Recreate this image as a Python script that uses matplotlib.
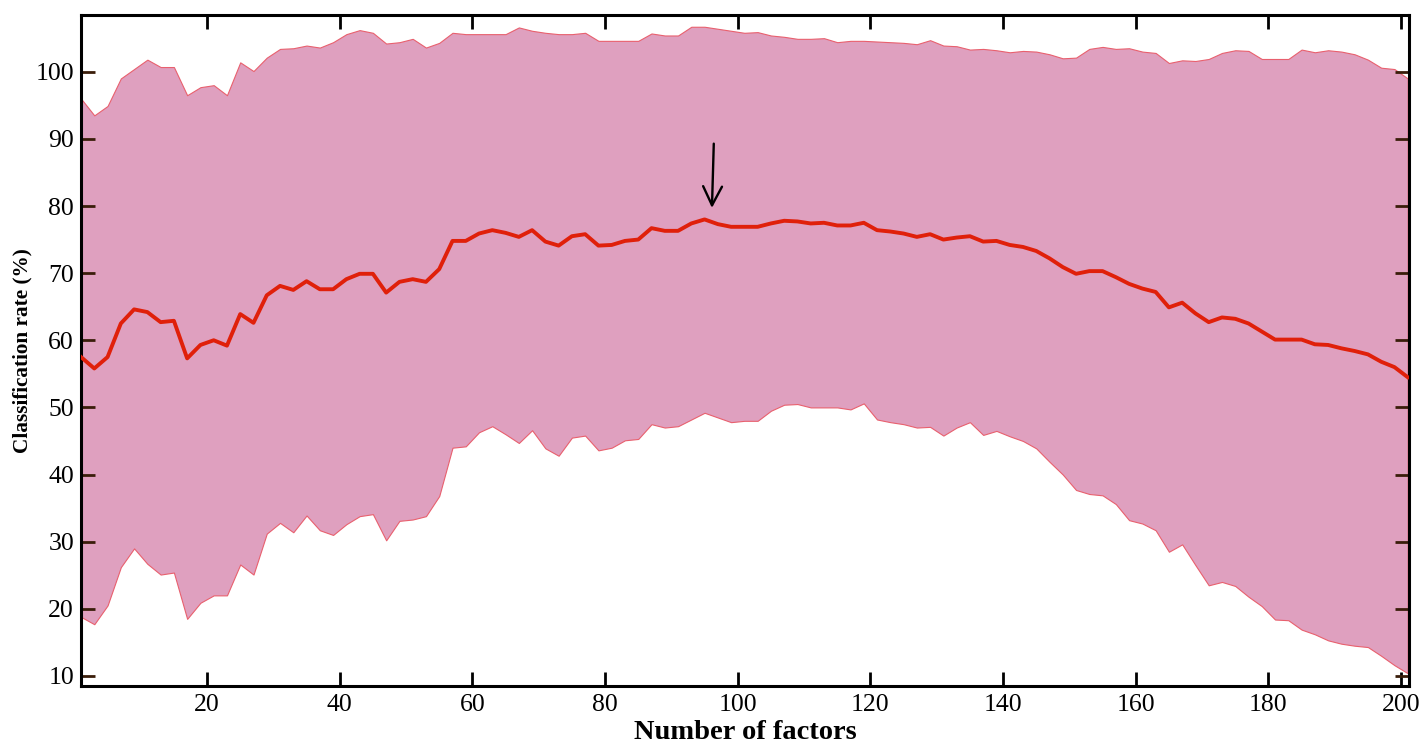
import matplotlib
matplotlib.use("Agg")
import matplotlib.pyplot as plt

plt.rcParams["font.family"] = ["Liberation Serif", "DejaVu Serif"]

# number of factors (every second value)
factors = list(range(1, 202, 2))

upper = [96.0, 93.5, 94.9, 99.0, 100.4, 101.8, 100.7, 100.7, 96.5, 97.7,
         98.0, 96.5, 101.4, 100.1, 102.1, 103.4, 103.5, 103.9, 103.6, 104.4,
         105.6, 106.2, 105.8, 104.2, 104.4, 104.9, 103.6, 104.3, 105.8, 105.6,
         105.6, 105.6, 105.6, 106.6, 106.1, 105.8, 105.6, 105.6, 105.8, 104.6,
         104.6, 104.6, 104.6, 105.7, 105.4, 105.4, 106.7, 106.7, 106.4, 106.1,
         105.8, 105.9, 105.4, 105.2, 104.9, 104.9, 105.0, 104.4, 104.6, 104.6,
         104.5, 104.4, 104.3, 104.1, 104.7, 103.9, 103.8, 103.3, 103.4, 103.2,
         102.9, 103.1, 103.0, 102.6, 102.0, 102.1, 103.4, 103.7, 103.4, 103.5,
         103.0, 102.8, 101.3, 101.7, 101.6, 101.9, 102.8, 103.2, 103.1, 101.9,
         101.9, 101.9, 103.3, 102.9, 103.2, 103.0, 102.6, 101.8, 100.6, 100.4,
         99.0]

mean_rate = [57.5, 55.8, 57.5, 62.5, 64.6, 64.2, 62.7, 62.9, 57.3, 59.3,
             60.0, 59.2, 63.9, 62.6, 66.7, 68.1, 67.5, 68.8, 67.6, 67.6,
             69.1, 69.9, 69.9, 67.1, 68.7, 69.1, 68.7, 70.6, 74.8, 74.8,
             75.9, 76.4, 76.0, 75.4, 76.4, 74.7, 74.1, 75.5, 75.8, 74.1,
             74.2, 74.8, 75.0, 76.7, 76.3, 76.3, 77.4, 78.0, 77.3, 76.9,
             76.9, 76.9, 77.4, 77.8, 77.7, 77.4, 77.5, 77.1, 77.1, 77.5,
             76.4, 76.2, 75.9, 75.4, 75.8, 75.0, 75.3, 75.5, 74.7, 74.8,
             74.2, 73.9, 73.3, 72.2, 70.9, 69.9, 70.3, 70.3, 69.4, 68.4,
             67.7, 67.2, 64.9, 65.6, 64.0, 62.7, 63.4, 63.2, 62.5, 61.3,
             60.1, 60.1, 60.1, 59.4, 59.3, 58.8, 58.4, 57.9, 56.8, 56.0,
             54.5]

lower = [18.8, 17.7, 20.5, 26.2, 29.0, 26.7, 25.1, 25.4, 18.5, 20.9,
         22.0, 22.0, 26.6, 25.1, 31.2, 32.8, 31.4, 33.9, 31.7, 31.0,
         32.6, 33.8, 34.1, 30.2, 33.1, 33.3, 33.8, 36.8, 44.0, 44.2,
         46.3, 47.2, 46.0, 44.7, 46.6, 43.9, 42.8, 45.5, 45.8, 43.6,
         44.0, 45.1, 45.3, 47.5, 47.0, 47.2, 48.2, 49.2, 48.5, 47.8,
         48.0, 48.0, 49.5, 50.4, 50.5, 50.0, 50.0, 50.0, 49.7, 50.6,
         48.2, 47.8, 47.5, 47.0, 47.1, 45.8, 47.0, 47.8, 45.9, 46.5,
         45.7, 45.0, 43.9, 41.9, 40.0, 37.7, 37.1, 36.9, 35.6, 33.2,
         32.7, 31.7, 28.5, 29.6, 26.5, 23.5, 24.0, 23.4, 21.8, 20.4,
         18.4, 18.3, 16.9, 16.2, 15.3, 14.8, 14.5, 14.3, 13.0, 11.6,
         10.4]

x_ticks = list(range(20, 201, 20))
y_ticks = list(range(10, 101, 10))

fig = plt.figure(figsize=(14.24, 7.45), dpi=100)
ax = fig.add_axes([0.0569, 0.0792, 0.9326, 0.9011])

ax.fill_between(factors, lower, upper, facecolor="#dfa0bf", edgecolor="#e8606e",
                linewidth=0.8, zorder=1)
ax.plot(factors, mean_rate, color="#e0200a", linewidth=2.8, zorder=3)

# arrow marking the best number of factors
ax.annotate("", xy=(96.1, 79.3), xytext=(96.4, 89.7),
            arrowprops=dict(arrowstyle="->", color="black", lw=1.7,
                            mutation_scale=34), zorder=4)

ax.set_xlim(1, 201.2)
ax.set_ylim(8.5, 108.5)
ax.set_xticks(x_ticks)
ax.set_yticks(y_ticks)

for side in ax.spines.values():
    side.set_linewidth(2.2)
ax.tick_params(axis="both", direction="in", length=10, width=2,
               top=True, right=True, labelsize=18.5)
ax.tick_params(axis="y", color="#3a1d0a", pad=5)
ax.tick_params(axis="x", pad=6)

ax.set_xlabel("Number of factors", fontsize=20.5, fontweight="bold", labelpad=3)
ax.set_ylabel("Classification rate (%)", fontsize=15.3, fontweight="bold", labelpad=2)

fig.savefig("out.png", dpi=100)
